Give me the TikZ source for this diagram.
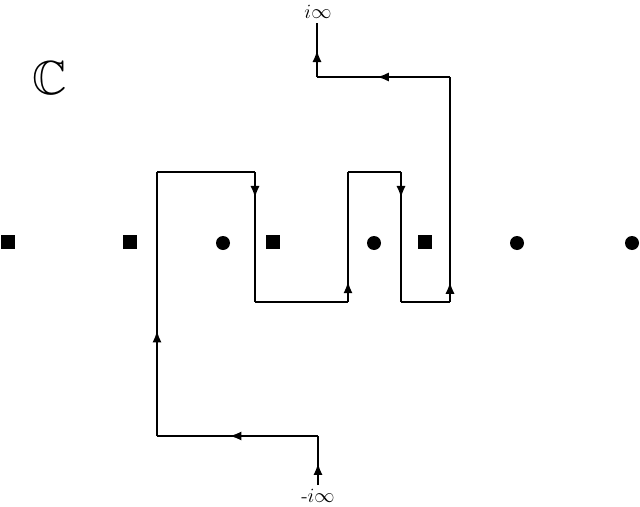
\documentclass[tikz,border=0pt]{standalone}
\usepackage{amssymb}
\usetikzlibrary{arrows.meta,decorations.markings}

\begin{document}
\begin{tikzpicture}[x=.025cm,y=-.025cm,
  pole/.style={fill=black},
  contour/.style={line width=1.9pt,line join=miter},
  tip/.style={postaction={decorate},decoration={markings,
    mark=at position #1 with {\arrow{Latex[length=3mm,width=2.3mm]}}}},
  tag/.style={font=\fontsize{14}{17}\selectfont,inner sep=0pt}]
\useasboundingbox (0,0) rectangle (640,507);
\fill[white] (0,0) rectangle (640,507);

\node[font=\fontsize{34}{40}\selectfont] (plane) at (50,78) {$\mathbb{C}$};

% POLES ON THE REAL LINE
\foreach \px in {8,130,273,425}
  \fill[pole] (\px-7,235) rectangle (\px+7,249);
\foreach \px in {223,374,517,632}
  \fill[pole] (\px,243) circle (7);

% CONTOUR
\coordinate (s) at (318,485);
\coordinate (a) at (318,436);
\coordinate (b) at (157,436);
\coordinate (c) at (157,172);
\coordinate (d) at (255,172);
\coordinate (e) at (255,302);
\coordinate (f) at (348,302);
\coordinate (g) at (348,172);
\coordinate (h) at (401,172);
\coordinate (k) at (401,302);
\coordinate (l) at (450,302);
\coordinate (m) at (450,77);
\coordinate (n) at (317,77);
\coordinate (t) at (317,23);

\draw[contour,tip=.45] (s)--(a);
\draw[contour,tip=.55] (a)--(b);
\draw[contour,tip=.4] (b)--(c);
\draw[contour] (c)--(d);
\draw[contour,tip=.2] (d)--(e);
\draw[contour] (e)--(f);
\draw[contour,tip=.16] (f)--(g);
\draw[contour] (g)--(h);
\draw[contour,tip=.2] (h)--(k);
\draw[contour] (k)--(l);
\draw[contour,tip=.09] (l)--(m);
\draw[contour,tip=.55] (m)--(n);
\draw[contour,tip=.5] (n)--(t);

\node[tag] (top) at (318,12) {$i\infty$};
\node[tag] (bot) at (318,496) {-$i\infty$};
\end{tikzpicture}
\end{document}
